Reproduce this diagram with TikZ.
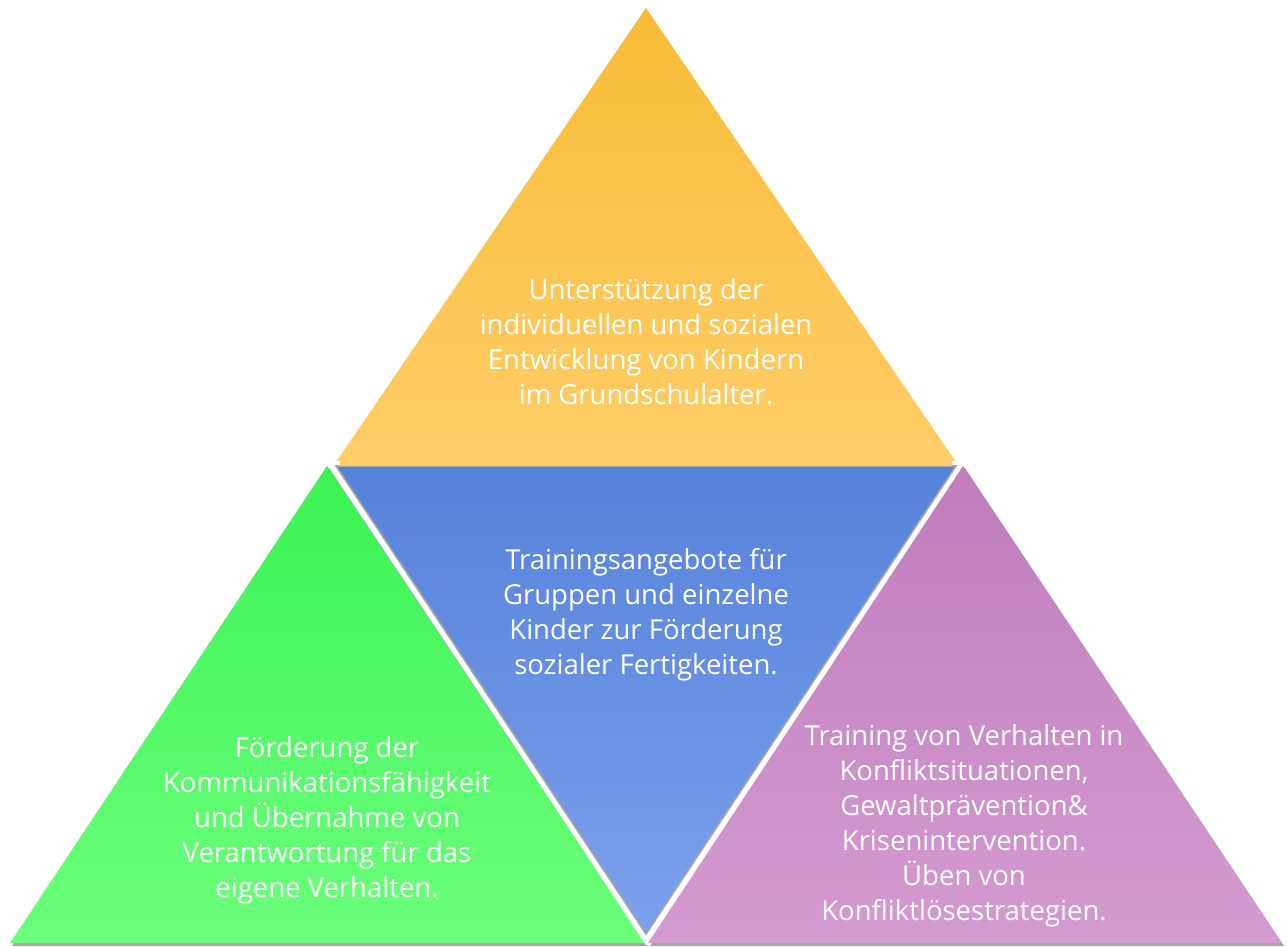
\documentclass[tikz,border=0pt]{standalone}
\usepackage{fontspec}
\setmainfont{Open Sans}
\definecolor{topA}{HTML}{F7BC36}
\definecolor{topB}{HTML}{FFCD68}
\definecolor{blueA}{HTML}{5582DA}
\definecolor{blueB}{HTML}{7CA0EC}
\definecolor{greenA}{HTML}{3AF254}
\definecolor{greenB}{HTML}{6CFF7C}
\definecolor{purpA}{HTML}{C07CBD}
\definecolor{purpB}{HTML}{D49BD0}
\begin{document}
\begin{tikzpicture}[x=1pt,y=-1pt,
  lbl/.style={text=white,align=center,font=\fontsize{27.5}{35}\selectfont,inner sep=0pt},
  shad/.style={fill=black!35}]
\useasboundingbox (0,0) rectangle (1287,947);
% shadows
\fill[shad] (329,468) -- (648,946) -- (12,946) -- cycle;
\fill[shad] (965,468) -- (1284,946) -- (650,946) -- cycle;
% left green
\shade[top color=greenA,bottom color=greenB] (327,466) -- (645,943) -- (10,943) -- cycle;
% right purple
\shade[top color=purpA,bottom color=purpB] (963,466) -- (1282,943) -- (648,943) -- cycle;
% top
\shade[top color=topA,bottom color=topB] (646,8) -- (958,465) -- (334,465) -- cycle;
% blue center
\draw[white,line width=8pt,line join=miter] (334,465) -- (958,465) -- (646,938) -- cycle;
\shade[top color=blueA,bottom color=blueB,draw=black!35,line width=1.6pt] (336,466) -- (956,466) -- (646,934) -- cycle;
\fill[topB] (340,461) rectangle (952,465.5);
% texts
\node[lbl] (t1) at (646,342) {Unterstützung der\\individuellen und sozialen\\Entwicklung von Kindern\\im Grundschulalter.};
\node[lbl] (t2) at (646,615) {Trainingsangebote für\\Gruppen und einzelne\\Kinder zur Förderung\\sozialer Fertigkeiten.};
\node[lbl] (t3) at (327,820) {Förderung der\\Kommunikationsfähigkeit\\und Übernahme von\\Verantwortung für das\\eigene Verhalten.};
\node[lbl] (t4) at (964,826) {Training von Verhalten in\\Konfliktsituationen,\\Gewaltprävention\&\\Krisenintervention.\\Üben von\\Konfliktlösestrategien.};
\end{tikzpicture}
\end{document}
